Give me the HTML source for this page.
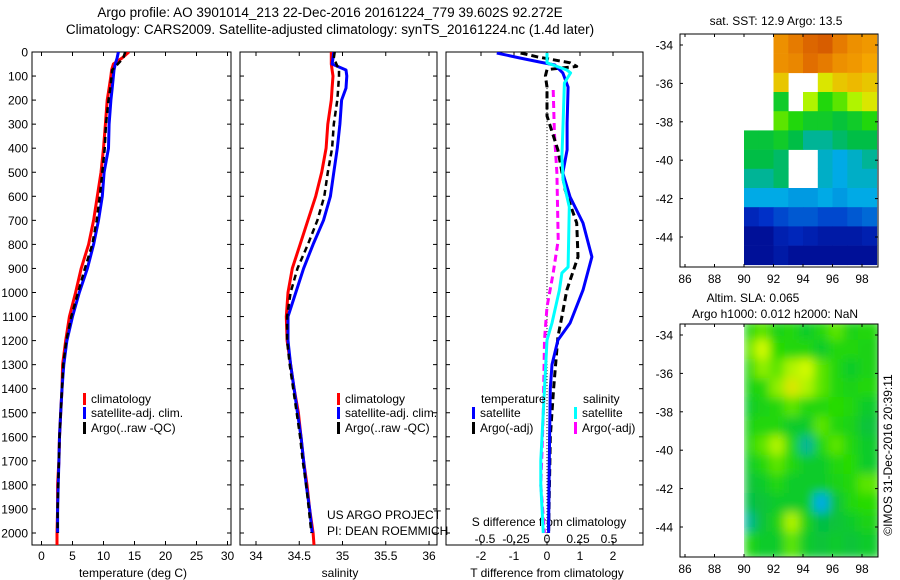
<!DOCTYPE html>
<html><head><meta charset="utf-8"><style>
html,body{margin:0;padding:0;background:#fff;}
svg{display:block;font-family:"Liberation Sans",sans-serif;}
</style></head><body>
<svg id="fig" width="900" height="580" viewBox="0 0 900 580" xmlns="http://www.w3.org/2000/svg">
<defs>
<clipPath id="c1"><rect x="32" y="52" width="199" height="493"/></clipPath>
<clipPath id="c2"><rect x="240" y="52" width="197" height="493"/></clipPath>
<clipPath id="c3"><rect x="446" y="52" width="197" height="493"/></clipPath>
<clipPath id="cm1"><rect x="680" y="34" width="198" height="233"/></clipPath>
<clipPath id="cm2"><rect x="680" y="324" width="198" height="233"/></clipPath>
<filter id="blur" x="-5%" y="-5%" width="110%" height="110%"><feGaussianBlur stdDeviation="5"/></filter>
</defs>
<text x="330" y="17" text-anchor="middle" font-size="13.5">Argo profile: AO 3901014_213 22-Dec-2016 20161224_779 39.602S 92.272E</text>
<text x="330" y="34" text-anchor="middle" font-size="13.5">Climatology: CARS2009. Satellite-adjusted climatology: synTS_20161224.nc (1.4d later)</text>
<g id="layer"></g>
</svg>
<script>
// ---------- data ----------
const depths = [0,25,50,75,100,150,200,300,400,500,600,700,800,900,1000,1100,1200,1300,1400,1500,1600,1700,1800,1900,2000];
const tempClim = [14.1,13.0,11.6,11.3,11.2,10.9,10.6,10.3,10.0,9.6,9.0,8.4,7.6,6.4,5.5,4.5,3.9,3.4,3.3,3.1,2.9,2.8,2.6,2.6,2.5];
const tempSat  = [12.4,12.2,11.9,11.7,11.6,11.4,11.2,10.9,10.8,10.1,9.8,9.2,8.4,7.4,6.1,5.0,4.1,3.6,3.3,3.1,2.9,2.8,2.7,2.6,2.6];
const tempArgo = [13.5,13.2,12.3,11.4,11.3,11.1,10.8,10.4,10.2,9.8,9.4,8.9,8.2,7.0,5.9,4.8,4.0,3.5,3.3,3.1,2.9,2.8,2.7,2.6,2.6];
const salClim = [34.87,34.87,34.87,34.88,34.89,34.88,34.87,34.83,34.81,34.76,34.69,34.60,34.51,34.42,34.37,34.35,34.36,34.40,34.44,34.49,34.52,34.55,34.59,34.62,34.66];
const salSat  = [34.90,34.89,34.88,35.04,35.05,35.04,34.99,34.97,34.94,34.90,34.86,34.78,34.66,34.55,34.46,34.37,34.37,34.40,34.44,34.48,34.52,34.55,34.58,34.62,34.65];
const salArgo = [34.91,34.90,34.93,34.96,34.96,34.95,34.94,34.90,34.88,34.83,34.79,34.71,34.60,34.48,34.40,34.36,34.36,34.39,34.43,34.47,34.51,34.54,34.58,34.61,34.64];
const dTdepth = [4,25,42,54,87,146,295,407,503,603,711,852,990,1127,1198,1300,1400,1600,1800,2000];
const dTsat   = [-1.52,-0.82,-0.21,0.24,0.48,0.64,0.61,0.61,0.48,0.70,1.09,1.36,1.09,0.70,0.33,0.15,0.10,0.08,0.06,0.05];
const dTargoDepth = [4,20,45,60,73,100,146,266,407,573,711,852,990,1100,1185,1400,1600,2000];
const dTargo  = [-0.8,-0.3,0.7,0.9,0.0,-0.05,0.0,0.0,0.33,0.55,0.9,0.94,0.6,0.45,0.33,0.2,0.1,0.05];
const dSdepth = [4,45,75,87,129,295,436,532,644,894,919,990,1127,1198,1400,1700,1800,2000];
const dSsat   = [0,0,0.16,0.19,0.14,0.13,0.12,0.13,0.18,0.17,0.12,0.10,0.04,0,-0.02,-0.05,-0.05,-0.03];
const dSargoDepth = [158,337,503,782,919,1060,1198,1500,1800,2000];
const dSargo  = [0.05,0.06,0.08,0.09,0.05,0,-0.02,-0.03,-0.05,-0.02];
const tempTicks = [0,5,10,15,20,25,30];
const salTicks = [34,34.5,35,35.5,36];
const salTickLabels = ["34","34.5","35","35.5","36"];
const dTTicks = [-2,-1,0,1,2];
const dSTicks = [-0.5,-0.25,0,0.25,0.5];
const dSTickLabels = ["-0.5","-0.25","0","0.25","0.5"];
const depthTicks = [0,100,200,300,400,500,600,700,800,900,1000,1100,1200,1300,1400,1500,1600,1700,1800,1900,2000];
const lonTicks = [86,88,90,92,94,96,98];
const latTicks = [-34,-36,-38,-40,-42,-44];
const N = null;
const sstGrid = [
 [N,N,0.80,0.85,0.90,0.92,0.85,0.80,0.78],
 [N,N,0.80,0.82,0.88,0.85,0.80,0.78,0.75],
 [N,N,0.70,N,N,0.65,0.70,0.72,0.70],
 [N,N,0.45,N,0.60,0.50,0.55,0.60,0.65],
 [N,N,0.55,0.50,0.45,0.45,0.42,0.45,0.50],
 [0.42,0.42,0.45,0.40,0.35,0.35,0.38,0.40,0.40],
 [0.40,0.40,0.38,N,N,0.32,0.30,0.32,0.35],
 [0.35,0.35,0.38,N,N,0.32,0.30,0.32,0.32],
 [0.30,0.30,0.30,0.28,0.28,0.30,0.28,0.30,0.30],
 [0.12,0.15,0.18,0.20,0.20,0.18,0.18,0.20,0.22],
 [0.05,0.05,0.10,0.12,0.10,0.08,0.08,0.08,0.10],
 [0.05,0.05,0.08,0.05,0.05,0.05,0.05,0.05,0.05]];
const slaGrid = [
 [0.50,0.55,0.48,0.50,0.45,0.50,0.55,0.48,0.50],
 [0.55,0.62,0.52,0.50,0.50,0.45,0.50,0.50,0.48],
 [0.50,0.58,0.55,0.60,0.62,0.55,0.50,0.45,0.48],
 [0.48,0.50,0.58,0.65,0.60,0.55,0.50,0.48,0.50],
 [0.45,0.48,0.50,0.55,0.50,0.50,0.52,0.50,0.45],
 [0.48,0.50,0.50,0.45,0.45,0.55,0.50,0.48,0.42],
 [0.50,0.55,0.60,0.50,0.35,0.50,0.55,0.50,0.45],
 [0.45,0.50,0.55,0.50,0.45,0.45,0.50,0.52,0.45],
 [0.42,0.45,0.50,0.45,0.45,0.45,0.48,0.50,0.55],
 [0.40,0.42,0.45,0.45,0.45,0.30,0.42,0.50,0.52],
 [0.35,0.42,0.48,0.60,0.48,0.40,0.42,0.45,0.48],
 [0.50,0.45,0.45,0.55,0.45,0.42,0.45,0.42,0.45]];

// ---------- helpers ----------
const NS = "http://www.w3.org/2000/svg";
const layer = document.getElementById('layer');
const FS = 12;
function mk(tag, attrs, parent){ const e=document.createElementNS(NS,tag); for(const k in attrs) e.setAttribute(k,attrs[k]); (parent||layer).appendChild(e); return e; }
function txt(x,y,s,anchor,size,parent){ const t=mk('text',{x:x,y:y,'text-anchor':anchor||'middle','font-size':size||FS},parent); t.textContent=s; return t; }
const yD = d => 52 + d*0.2405;
const xT = t => 41.5 + t*6.2;
const xS = s => 256 + (s-34)*86.5;
const xdT = v => 547 + v*33;
const xdS = v => 547 + v*124;

function panel(x0,w,name){
  const g = mk('g',{});
  
  
  mk('rect',{x:x0,y:52,width:w,height:493,fill:'none',stroke:'#000','stroke-width':1},g);
  depthTicks.forEach(d=>{
    mk('line',{x1:x0,x2:x0+4,y1:yD(d),y2:yD(d),stroke:'#000'},g);
    mk('line',{x1:x0+w-4,x2:x0+w,y1:yD(d),y2:yD(d),stroke:'#000'},g);
  });
  return g;
}
function xTicks(g,vals,fx,labels,ly){
  vals.forEach((v,i)=>{
    const x=fx(v);
    mk('line',{x1:x,x2:x,y1:52,y2:56,stroke:'#000'},g);
    mk('line',{x1:x,x2:x,y1:541,y2:545,stroke:'#000'},g);
    if(labels){ const t=txt(x,ly,labels[i],'middle',FS,g);
      
       }
  });
}
function series(vals,deps,fx,color,width,dash,clip,name){
  const pts = vals.map((v,i)=>fx(v).toFixed(1)+','+yD(deps[i]).toFixed(1)).join(' ');
  const a = {points:pts,fill:'none',stroke:color,'stroke-width':width,'clip-path':'url(#'+clip+')','stroke-linejoin':'round'};
  if(dash) a['stroke-dasharray']=dash;
  const p = mk('polyline',a);
  
  
  return p;
}
function legendEntry(x,y,color,label,name){
  const g=mk('g',{});
  
  
  mk('rect',{x:x,y:y-10,width:3,height:12,fill:color},g);
  txt(x+8,y,label,'start',FS,g);
}

// depth labels
depthTicks.forEach(d=>{ const t=txt(28,yD(d)+4.5,String(d),'end',FS);
  
   });

// Panel 1 temperature
const p1 = panel(32,199,'temperature-panel');
xTicks(p1,tempTicks,xT,tempTicks.map(String),560);
txt(133,577,'temperature (deg C)','middle',FS);
series(tempClim.concat([2.5]),depths.concat([2050]),xT,'#f00',3,null,'c1','temp-climatology-line');
series(tempSat,depths,xT,'#00f',3,null,'c1','temp-satellite-line');
series(tempArgo,depths,xT,'#000',2.5,'6,4','c1','temp-argo-line');
legendEntry(83,403,'#f00','climatology','legend-climatology');
legendEntry(83,417,'#00f','satellite-adj. clim.','legend-satellite-adj');
legendEntry(83,432,'#000','Argo(..raw -QC)','legend-argo');

// Panel 2 salinity
const p2 = panel(240,197,'salinity-panel');
xTicks(p2,salTicks,xS,salTickLabels,560);
txt(340,577,'salinity','middle',FS);
series(salClim.concat([34.67]),depths.concat([2050]),xS,'#f00',3,null,'c2','sal-climatology-line');
series(salSat,depths,xS,'#00f',3,null,'c2','sal-satellite-line');
series(salArgo,depths,xS,'#000',2.5,'6,4','c2','sal-argo-line');
legendEntry(337,403,'#f00','climatology','legend-climatology-2');
legendEntry(337,417,'#00f','satellite-adj. clim.','legend-satellite-adj-2');
legendEntry(337,432,'#000','Argo(..raw -QC)','legend-argo-2');
txt(327,519,'US ARGO PROJECT','start',FS);
txt(327,535,'PI: DEAN ROEMMICH','start',FS);

// Panel 3 differences
const p3 = panel(446,197,'difference-panel');
xTicks(p3,dTTicks,xdT,dTTicks.map(String),560);
txt(547,577,'T difference from climatology','middle',FS);
txt(549,526,'S difference from climatology','middle',FS);
dSTicks.forEach((v,i)=>{ const t=txt(xdS(v),543,dSTickLabels[i],'middle',FS);
  
   });
mk('line',{x1:547,x2:547,y1:yD(150),y2:545,stroke:'#000','stroke-width':1,'stroke-dasharray':'1,2'});
series(dSargo,dSargoDepth,xdS,'#f0f',3,'7,4','c3','s-diff-argo-line');
series(dTargo,dTargoDepth,xdT,'#000',3,'7,4','c3','t-diff-argo-line');
series(dTsat,dTdepth,xdT,'#00f',3,null,'c3','t-diff-satellite-line');
series(dSsat,dSdepth,xdS,'#0ff',3,null,'c3','s-diff-satellite-line');
txt(481,403,'temperature','start',FS);
txt(583,403,'salinity','start',FS);
legendEntry(472,417,'#00f','satellite','legend-t-satellite');
legendEntry(472,432,'#000','Argo(-adj)','legend-t-argo');
legendEntry(574,417,'#0ff','satellite','legend-s-satellite');
legendEntry(574,432,'#f0f','Argo(-adj)','legend-s-argo');

// ---------- maps ----------
const cstops=[[0,[0,0,128]],[0.15,[0,48,200]],[0.3,[0,170,230]],[0.4,[0,190,70]],[0.52,[40,220,0]],[0.62,[210,250,0]],[0.75,[245,165,0]],[0.88,[225,110,0]],[1,[195,60,0]]];
function cmap(v){
  for(let i=1;i<cstops.length;i++){ if(v<=cstops[i][0]){ const a=cstops[i-1],b=cstops[i],f=(v-a[0])/(b[0]-a[0]);
    return 'rgb('+a[1].map((c,k)=>Math.round(c+(b[1][k]-c)*f)).join(',')+')'; } }
  return 'rgb(195,60,0)';
}
const mxL = lon => 685 + (lon-86)*14.75;
function mapPanel(y0,grid,clip,name,blur){
  const g=mk('g',{});
  
  
  const myL = lat => y0 + 11 + (-34-lat)*19.2;
  const cells=mk('g',{'clip-path':'url(#'+clip+')'},g);
  const inner = blur ? mk('g',{filter:'url(#blur)'},cells) : cells;
  const latTop=-33.45;
  grid.forEach((row,r)=>row.forEach((v,c)=>{
    if(v===null) return;
    const x=mxL(90+c), y=myL(latTop-r);
    const pad = blur ? ((c===0)?0:4) : 0;
    const cell=mk('rect',{x:(x-pad).toFixed(1),y:(y-(blur?4:0)).toFixed(1),width:(mxL(91+c)-x+pad+(blur?4:0.3)).toFixed(1),height:(19.2+(blur?8:0.3)).toFixed(1),fill:cmap(v)},inner);
    
    
  }));
  if(blur) mk('rect',{x:680,y:y0,width:mxL(90)-680,height:233,fill:'#fff'},g);
  mk('rect',{x:680,y:y0,width:198,height:233,fill:'none',stroke:'#000'},g);
  lonTicks.forEach(l=>{ const x=mxL(l);
    mk('line',{x1:x,x2:x,y1:y0,y2:y0+3,stroke:'#000'},g);
    mk('line',{x1:x,x2:x,y1:y0+230,y2:y0+233,stroke:'#000'},g);
    const t=txt(x,y0+249,String(l),'middle',FS,g);
    
     });
  latTicks.forEach(l=>{ const y=myL(l);
    mk('line',{x1:680,x2:683,y1:y,y2:y,stroke:'#000'},g);
    mk('line',{x1:875,x2:878,y1:y,y2:y,stroke:'#000'},g);
    const t=txt(673,y+4.5,String(l),'end',FS,g);
    
     });
}
mapPanel(34,sstGrid,'cm1','sst-map',false);
mapPanel(324,slaGrid,'cm2','sla-map',true);
txt(776,25,'sat. SST: 12.9 Argo: 13.5','middle',FS);
txt(753,302,'Altim. SLA: 0.065','middle',FS);
txt(775,318,'Argo h1000: 0.012 h2000: NaN','middle',FS);
const im=txt(0,0,'©IMOS 31-Dec-2016 20:39:11','middle',FS);
im.setAttribute('transform','translate(892,455) rotate(-90)');

</script>
</body></html>
